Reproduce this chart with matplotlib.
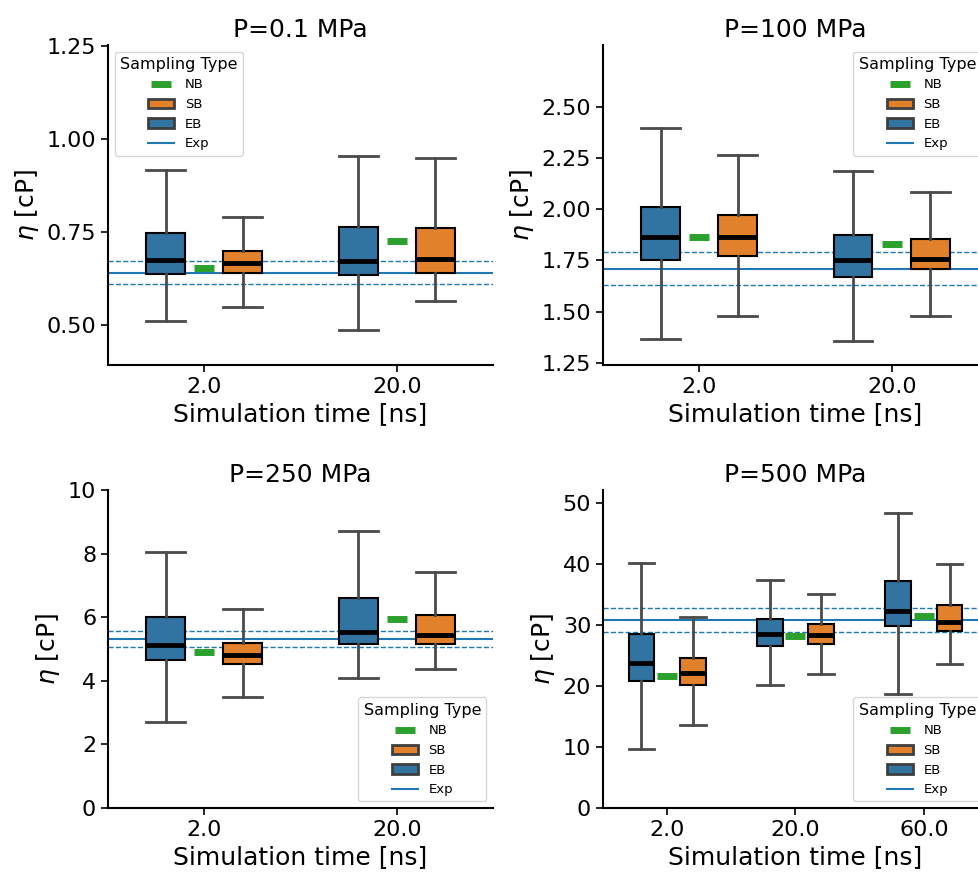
import matplotlib.pyplot as plt
import numpy as np
from matplotlib.lines import Line2D
from matplotlib.patches import Patch

# box summaries per simulation time: [lower whisker, Q1, median, Q3, upper whisker]
p01_times = ["2.0", "20.0"]
p01_eb = [[0.511, 0.637, 0.674, 0.748, 0.917], [0.487, 0.635, 0.671, 0.763, 0.955]]
p01_sb = [[0.549, 0.639, 0.666, 0.698, 0.790], [0.565, 0.639, 0.676, 0.761, 0.947]]
p01_nb = [0.653, 0.725]
p01_exp = 0.640
p01_exp_err = 0.031

p100_times = ["2.0", "20.0"]
p100_eb = [[1.367, 1.751, 1.862, 2.008, 2.393], [1.359, 1.667, 1.753, 1.875, 2.184]]
p100_sb = [[1.479, 1.769, 1.865, 1.969, 2.262], [1.479, 1.707, 1.759, 1.855, 2.081]]
p100_nb = [1.864, 1.828]
p100_exp = 1.710
p100_exp_err = 0.080

p250_times = ["2.0", "20.0"]
p250_eb = [[2.71, 4.65, 5.11, 6.02, 8.06], [4.10, 5.17, 5.53, 6.60, 8.72]]
p250_sb = [[3.48, 4.52, 4.82, 5.20, 6.27], [4.38, 5.17, 5.43, 6.06, 7.41]]
p250_nb = [4.91, 5.93]
p250_exp = 5.31
p250_exp_err = 0.26

p500_times = ["2.0", "20.0", "60.0"]
p500_eb = [[9.7, 20.9, 23.8, 28.6, 40.2], [20.2, 26.6, 28.5, 31.0, 37.5], [18.7, 29.8, 32.3, 37.3, 48.5]]
p500_sb = [[13.6, 20.2, 22.1, 24.6, 31.3], [22.0, 26.9, 28.4, 30.2, 35.1], [23.7, 29.1, 30.6, 33.4, 40.0]]
p500_nb = [21.7, 28.2, 31.5]
p500_exp = 30.9
p500_exp_err = 2.0

EB_COLOR = "#3274a1"
SB_COLOR = "#e1812c"
NB_COLOR = "#2ca02c"
EXP_COLOR = "#1f77b4"


def draw_boxes(ax, summaries, positions, color):
    stats = [
        dict(whislo=s[0], q1=s[1], med=s[2], q3=s[3], whishi=s[4]) for s in summaries
    ]
    ax.bxp(
        stats,
        positions=positions,
        widths=0.2,
        capwidths=0.2,
        showfliers=False,
        patch_artist=True,
        manage_ticks=False,
        boxprops=dict(facecolor=color, edgecolor="black", linewidth=1.5),
        whiskerprops=dict(color="#4a4a4a", linewidth=2),
        capprops=dict(color="#4a4a4a", linewidth=2),
        medianprops=dict(color="black", linewidth=3.5),
        zorder=3,
    )


def draw_panel(ax, title, times, eb, sb, nb, exp, exp_err, ylim, yticks, fmt, loc):
    pos = np.arange(len(times))

    ax.axhline(exp, color=EXP_COLOR, lw=1.5, zorder=1)
    ax.axhline(exp + exp_err, color=EXP_COLOR, lw=1, ls="--", zorder=1)
    ax.axhline(exp - exp_err, color=EXP_COLOR, lw=1, ls="--", zorder=1)

    draw_boxes(ax, eb, pos - 0.2, EB_COLOR)
    draw_boxes(ax, sb, pos + 0.2, SB_COLOR)
    ax.plot(pos, nb, ls="none", marker="_", ms=15, mew=5, color=NB_COLOR, zorder=4)

    ax.set_xlim(-0.5, len(times) - 0.5)
    ax.set_xticks(pos)
    ax.set_xticklabels(times)
    ax.set_ylim(*ylim)
    ax.set_yticks(yticks)
    ax.set_yticklabels([fmt.format(t) for t in yticks])
    ax.tick_params(labelsize=16, width=1.2, length=5)

    ax.set_title(title, fontsize=18)
    ax.set_xlabel("Simulation time [ns]", fontsize=18)
    ax.set_ylabel(r"$\eta$ [cP]", fontsize=18)

    for side in ["top", "right"]:
        ax.spines[side].set_visible(False)
    for side in ["left", "bottom"]:
        ax.spines[side].set_linewidth(1.5)

    handles = [
        Line2D([], [], ls="none", marker="_", ms=15, mew=5, color=NB_COLOR),
        Patch(facecolor=SB_COLOR, edgecolor="#3f3f3f", linewidth=2),
        Patch(facecolor=EB_COLOR, edgecolor="#3f3f3f", linewidth=2),
        Line2D([], [], color=EXP_COLOR, lw=1.5),
    ]
    ax.legend(
        handles,
        ["NB", "SB", "EB", "Exp"],
        title="Sampling Type",
        loc=loc,
        fontsize=9.5,
        title_fontsize=11.5,
    )


def main() -> None:
    fig = plt.figure(figsize=(9.79, 8.72), dpi=100)

    ax1 = fig.add_axes([0.1103, 0.5814, 0.3933, 0.367])
    ax2 = fig.add_axes([0.6159, 0.5814, 0.3933, 0.367])
    ax3 = fig.add_axes([0.1103, 0.0734, 0.3933, 0.3647])
    ax4 = fig.add_axes([0.6159, 0.0734, 0.3933, 0.3647])

    draw_panel(ax1, "P=0.1 MPa", p01_times, p01_eb, p01_sb, p01_nb, p01_exp,
               p01_exp_err, (0.392, 1.252), [0.5, 0.75, 1.0, 1.25], "{:.2f}",
               "upper left")
    draw_panel(ax2, "P=100 MPa", p100_times, p100_eb, p100_sb, p100_nb, p100_exp,
               p100_exp_err, (1.24, 2.80), [1.25, 1.5, 1.75, 2.0, 2.25, 2.5],
               "{:.2f}", "upper right")
    draw_panel(ax3, "P=250 MPa", p250_times, p250_eb, p250_sb, p250_nb, p250_exp,
               p250_exp_err, (0, 10), [0, 2, 4, 6, 8, 10], "{:.0f}",
               "lower right")
    draw_panel(ax4, "P=500 MPa", p500_times, p500_eb, p500_sb, p500_nb, p500_exp,
               p500_exp_err, (0, 52.2), [0, 10, 20, 30, 40, 50], "{:.0f}",
               "lower right")

    fig.savefig("out.png", dpi=100)


if __name__ == "__main__":
    main()
